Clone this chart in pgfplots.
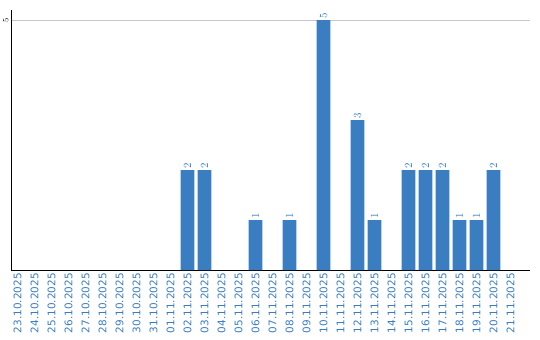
\documentclass[border=0pt]{standalone}
\usepackage{pgfplots}
\pgfplotsset{compat=1.18}
\usepackage{fontspec}
\setmainfont{DejaVu Sans}
\definecolor{barblue}{RGB}{59,125,193}
\definecolor{gridgray}{RGB}{200,200,200}
\begin{document}
\begin{tikzpicture}
\useasboundingbox (-11bp,-70bp) rectangle (529bp,270bp);
\begin{axis}[
  at={(0,0)}, anchor=south west,
  scale only axis, width=519bp, height=260bp,
  xmin=-0.382, xmax=30.147, ymin=0, ymax=5.2,
  axis x line*=bottom, axis y line*=left,
  axis line style={-, black, line width=1bp},
  xtick={0,...,29},
  xticklabels={23.10.2025,24.10.2025,25.10.2025,26.10.2025,27.10.2025,28.10.2025,29.10.2025,30.10.2025,31.10.2025,01.11.2025,02.11.2025,03.11.2025,04.11.2025,05.11.2025,06.11.2025,07.11.2025,08.11.2025,09.11.2025,10.11.2025,11.11.2025,12.11.2025,13.11.2025,14.11.2025,15.11.2025,16.11.2025,17.11.2025,18.11.2025,19.11.2025,20.11.2025,21.11.2025},
  ytick={5},
  ymajorgrids, grid style={gridgray, line width=1bp},
  major tick length=0,
  xticklabel style={rotate=90, anchor=east, text=barblue, font=\fontsize{10.5}{12}\selectfont, inner sep=3bp},
  yticklabel style={rotate=90, anchor=south, font=\fontsize{8.5}{10}\selectfont, inner sep=2.5bp},
]
\addplot[ybar, bar width=0.82, fill=barblue, draw=none,
  nodes near coords,
  nodes near coords style={rotate=90, anchor=west, text=barblue, font=\fontsize{10.5}{12}\selectfont, inner sep=1.5bp}]
  coordinates {(10,2) (11,2) (14,1) (16,1) (18,5) (20,3) (21,1) (23,2) (24,2) (25,2) (26,1) (27,1) (28,2)};
\end{axis}
\end{tikzpicture}
\end{document}
